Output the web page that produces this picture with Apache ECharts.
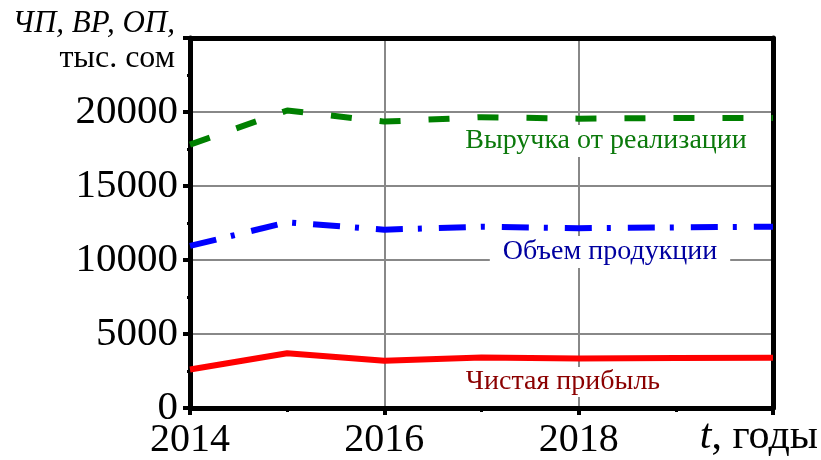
<!DOCTYPE html>
<html>
<head>
<meta charset="utf-8">
<script src="https://cdn.jsdelivr.net/npm/echarts@6/dist/echarts.min.js"></script>
<style>
  html, body { margin: 0; padding: 0; background: #fff; }
  #chart { width: 821px; height: 460px; }
</style>
</head>
<body>
<div id="chart"></div>
<script>
// годы и показатели, тыс. сом
const years = [2014, 2015, 2016, 2017, 2018, 2019, 2020];
const revenue = [17800, 20100, 19350, 19650, 19550, 19600, 19600]; // выручка от реализации
const output = [10950, 12550, 12050, 12250, 12150, 12200, 12250];  // объем продукции
const profit = [2600, 3700, 3200, 3420, 3350, 3380, 3400];         // чистая прибыль

const serif = "'Liberation Serif', 'DejaVu Serif', serif";

const chart = echarts.init(document.getElementById("chart"));

const pairs = (ys) => years.map((x, i) => [x, ys[i]]);

// рамка сверху и справа — пустые оси без подписей
const frameLine = { show: true, onZero: false, lineStyle: { color: "#000", width: 5 } };

chart.setOption({
  animation: false,
  grid: { left: 190, right: 48, top: 38, bottom: 50 },
  xAxis: [
    {
      type: "value",
      min: 2014, max: 2020, interval: 2,
      axisLine: frameLine,
      axisTick: { show: true, length: 7, lineStyle: { color: "#000", width: 4 } },
      minorTick: { show: true, splitNumber: 2, length: 4, lineStyle: { color: "#000", width: 3 } },
      splitLine: { show: true, lineStyle: { color: "#888", width: 2 } },
      axisLabel: {
        color: "#000", fontFamily: serif, fontSize: 40, margin: 12,
        formatter: (v) => (v === 2020 ? "" : String(v)),
      },
    },
    {
      type: "value", position: "top",
      min: 2014, max: 2020,
      axisLine: frameLine,
      axisTick: { show: false }, axisLabel: { show: false }, splitLine: { show: false },
    },
  ],
  yAxis: [
    {
      type: "value",
      min: 0, max: 25000, interval: 5000,
      axisLine: frameLine,
      axisTick: { show: true, length: 7, lineStyle: { color: "#000", width: 4 } },
      minorTick: { show: true, splitNumber: 2, length: 3, lineStyle: { color: "#000", width: 3 } },
      splitLine: { show: true, lineStyle: { color: "#888", width: 2 } },
      axisLabel: {
        color: "#000", fontFamily: serif, fontSize: 41, margin: 12,
        formatter: (v) => (v === 25000 ? "" : String(v)),
      },
    },
    {
      type: "value", position: "right",
      min: 0, max: 25000,
      axisLine: frameLine,
      axisTick: { show: false }, axisLabel: { show: false }, splitLine: { show: false },
    },
  ],
  series: [
    {
      type: "line", data: pairs(revenue), showSymbol: false, z: 3,
      lineStyle: { color: "#008000", width: 6, type: [21, 28] },
    },
    {
      type: "line", data: pairs(output), showSymbol: false, z: 3,
      lineStyle: { color: "#0000ff", width: 6, type: [27, 15, 4, 17] },
    },
    {
      type: "line", data: pairs(profit), showSymbol: false, z: 3,
      lineStyle: { color: "#ff0000", width: 6 },
    },
  ],
  graphic: [
    {
      type: "text", right: 646, top: 8, z: 5,
      style: { text: "ЧП, ВР, ОП,", font: "italic 31px " + serif, fill: "#000" },
    },
    {
      type: "text", right: 646, top: 43, z: 5,
      style: { text: "тыс. сом", font: "32px " + serif, fill: "#000" },
    },
    {
      type: "text", right: 3, top: 416, z: 5,
      style: {
        text: "{i|t}, годы",
        font: "42px " + serif, fill: "#000",
        rich: { i: { fontStyle: "italic", fontSize: 42, fontFamily: serif } },
      },
    },
    {
      type: "text", x: 606, y: 141, z: 5,
      style: {
        text: "Выручка от реализации", font: "28px " + serif, fill: "#0b790b",
        align: "center", verticalAlign: "middle",
        backgroundColor: "#fff", padding: [2, 6],
      },
    },
    {
      type: "text", x: 610, y: 252, z: 5,
      style: {
        text: "Объем продукции", font: "28px " + serif, fill: "#0000a0",
        align: "center", verticalAlign: "middle",
        backgroundColor: "#fff", padding: [2, 13],
      },
    },
    {
      type: "text", x: 563, y: 382, z: 5,
      style: {
        text: "Чистая прибыль", font: "28px " + serif, fill: "#8b0000",
        align: "center", verticalAlign: "middle",
        backgroundColor: "#fff", padding: [1, 6],
      },
    },
  ],
});
</script>
</body>
</html>
